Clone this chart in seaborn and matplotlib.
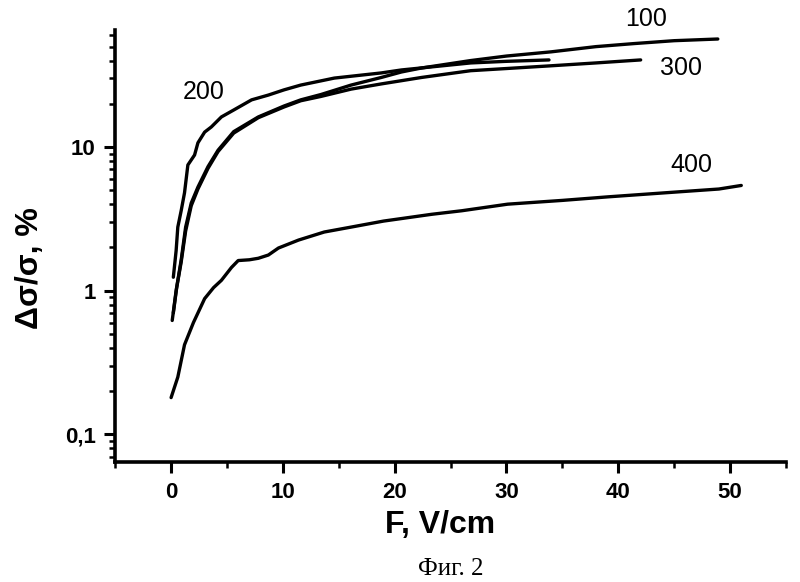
import numpy as np
import pandas as pd
import matplotlib
matplotlib.use("Agg")
import matplotlib.pyplot as plt
import seaborn as sns
from matplotlib.ticker import LogLocator, NullFormatter, MultipleLocator

sns.set_theme(style="ticks")
plt.rcParams['font.family'] = ['Liberation Sans', 'DejaVu Sans']
plt.rcParams['text.color'] = 'black'
plt.rcParams['axes.labelcolor'] = 'black'
plt.rcParams['xtick.color'] = 'black'
plt.rcParams['ytick.color'] = 'black'

# ---- data ----
F_100 = [0.1, 0.45, 0.9, 1.3, 1.8, 2.4, 3.3, 4.2, 5.6, 7.8, 10.1, 11.6, 13.4, 16.1,
         18.8, 20.6, 22.4, 26.8, 30, 34, 38, 41.4, 45, 48.9]
V_100 = [0.62, 1.0, 1.63, 2.77, 4.07, 5.26, 7.3, 9.5, 12.8, 16.2, 19.3, 21.3, 23.2, 27.0,
         30.5, 33.3, 35.5, 40, 43, 46, 50, 52.5, 55, 56.5]

F_200 = [0.2, 0.45, 0.6, 0.9, 1.2, 1.5, 2.1, 2.4, 3.0, 3.6, 4.5, 5.6, 7.2, 8.7, 10.1,
         11.6, 14.6, 18.8, 20.6, 26.8, 30, 33.8]
V_200 = [1.24, 1.9, 2.77, 3.6, 4.8, 7.5, 8.8, 10.7, 12.7, 13.8, 16.2, 18.1, 21.3, 23,
         25, 27, 30.2, 32.8, 34.4, 38.5, 39.5, 40.4]

F_300 = [0.2, 0.5, 0.9, 1.3, 1.8, 2.4, 3.3, 4.2, 5.6, 7.8, 10.1, 11.6, 13.4, 16.1,
         18.8, 22.4, 26.8, 30, 33.8, 38, 42]
V_300 = [0.7, 1.05, 1.58, 2.6, 3.9, 5.1, 7.1, 9.3, 12.5, 16.0, 19.0, 21.0, 22.5, 25.3,
         27.5, 30.5, 34, 35.2, 36.7, 38.5, 40.4]

F_400 = [0.0, 0.6, 1.2, 2.0, 3.0, 3.8, 4.5, 5.4, 6.0, 7.0, 7.8, 8.7, 9.6, 11.4, 13.7,
         16.1, 19, 23.3, 26, 30.1, 35, 39.1, 45.0, 49, 51.0]
V_400 = [0.18, 0.25, 0.42, 0.60, 0.88, 1.05, 1.18, 1.45, 1.62, 1.64, 1.68, 1.77, 1.98,
         2.25, 2.56, 2.77, 3.05, 3.4, 3.6, 4.0, 4.25, 4.5, 4.85, 5.1, 5.4]

series_names = ["100", "200", "300", "400"]
x_ticks = [0, 10, 20, 30, 40, 50]
y_ticks = [0.1, 1, 10]
y_tick_labels = ["0,1", "1", "10"]

frames = []
for name, F, V in zip(series_names, [F_100, F_200, F_300, F_400],
                      [V_100, V_200, V_300, V_400]):
    frames.append(pd.DataFrame({"F": F, "V": V, "series": name, "order": range(len(F))}))
df = pd.concat(frames, ignore_index=True)

fig = plt.figure(figsize=(8.0, 5.82), dpi=100)
ax = fig.add_axes([0.144, 0.206, 0.8385, 0.742])

for name in series_names:
    sub = df[df["series"] == name]
    sns.lineplot(data=sub, x="F", y="V", sort=False, color="black", lw=2.4,
                 ax=ax, legend=False, estimator=None)

ax.set_yscale("log")
ax.set_xlim(-5, 55)
ax.set_ylim(0.064, 65)

ax.set_xticks(x_ticks)
ax.set_xticklabels([str(t) for t in x_ticks])
ax.xaxis.set_minor_locator(MultipleLocator(5))
ax.set_yticks(y_ticks)
ax.set_yticklabels(y_tick_labels)
ax.yaxis.set_minor_locator(LogLocator(base=10, subs=np.arange(2, 10)))
ax.yaxis.set_minor_formatter(NullFormatter())

for lab in ax.get_xticklabels() + ax.get_yticklabels():
    lab.set_fontweight("bold")
    lab.set_fontsize(16)
    lab.set_color("black")

ax.tick_params(axis="both", which="major", direction="out", length=8, width=2.2,
               color="black", pad=6)
ax.tick_params(axis="both", which="minor", direction="out", length=4, width=1.8,
               color="black")

for side in ["top", "right"]:
    ax.spines[side].set_visible(False)
for side in ["left", "bottom"]:
    ax.spines[side].set_linewidth(2.6)
    ax.spines[side].set_color("black")

ax.set_xlabel("F, V/cm", fontsize=23, fontweight="bold", labelpad=0)
ax.set_ylabel("Δσ/σ, %", fontsize=23, fontweight="bold", labelpad=8)
ax.yaxis.set_label_coords(-0.105, 0.45)
ax.xaxis.set_label_coords(0.485, -0.11)

ax.text(42.5, 78, "100", fontsize=18, ha="center", va="center", clip_on=False)
ax.text(45.6, 35.5, "300", fontsize=18, ha="center", va="center")
ax.text(2.95, 24.2, "200", fontsize=18, ha="center", va="center")
ax.text(46.5, 7.5, "400", fontsize=18, ha="center", va="center")

fig.text(0.564, 0.022, "Фиг. 2", fontsize=18, family=["Liberation Serif", "DejaVu Serif"],
         ha="center", va="center")

fig.patch.set_facecolor("white")
ax.set_facecolor("white")
fig.savefig("out.png", dpi=100)
